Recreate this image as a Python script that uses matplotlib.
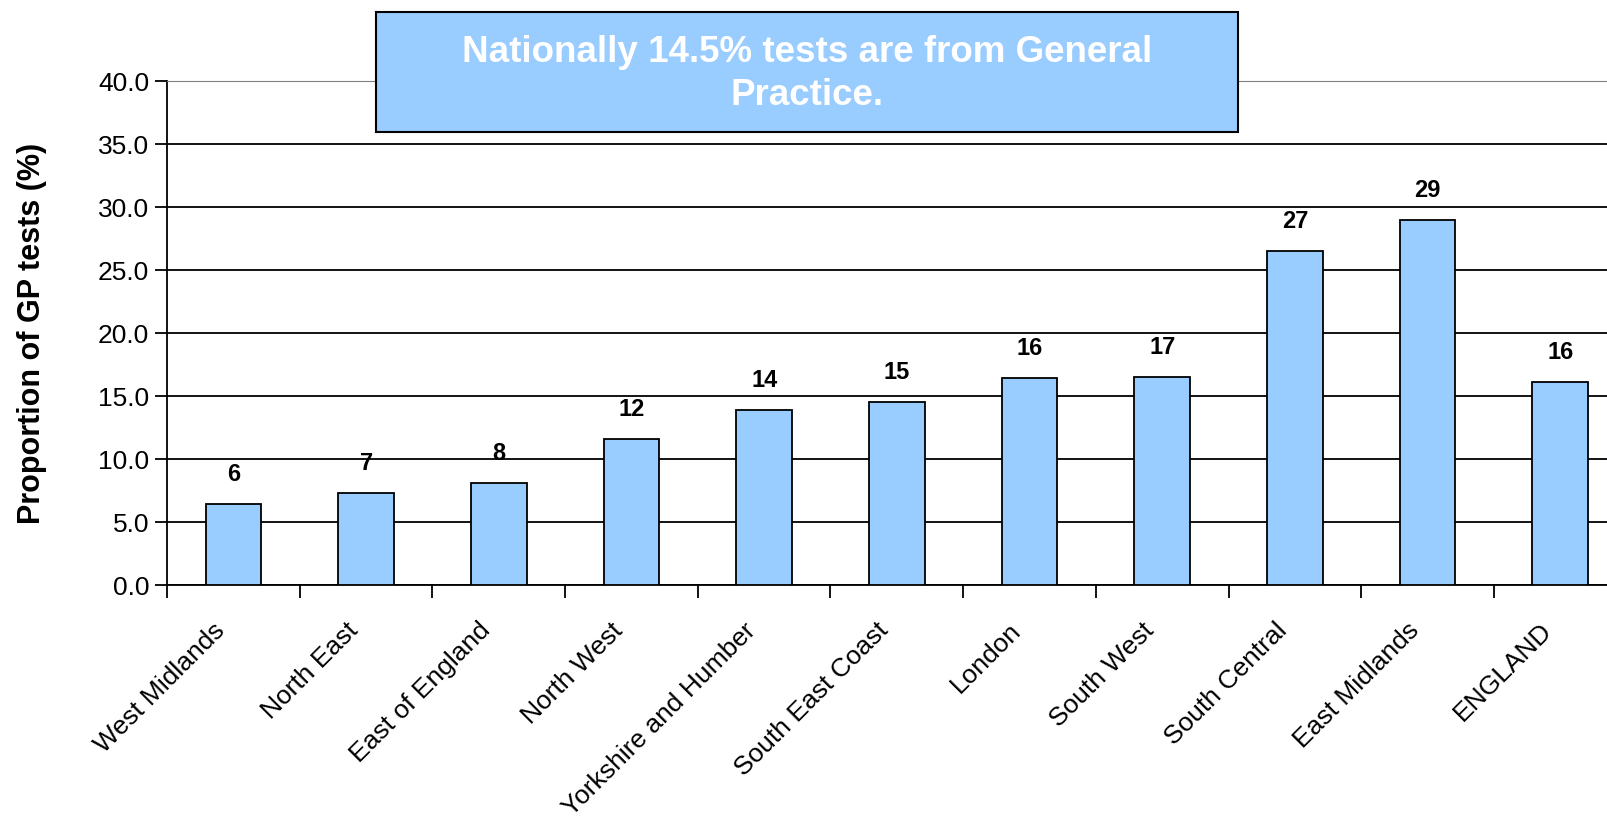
import matplotlib.pyplot as plt
from matplotlib.patches import Rectangle
from matplotlib.transforms import ScaledTranslation

plt.rcParams['font.family'] = ['Liberation Sans', 'DejaVu Sans']

# данные графика
regions = ['West Midlands', 'North East', 'East of England', 'North West',
           'Yorkshire and Humber', 'South East Coast', 'London', 'South West',
           'South Central', 'East Midlands', 'ENGLAND']
values = [6.4, 7.3, 8.1, 11.6, 13.9, 14.5, 16.4, 16.5, 26.5, 29.0, 16.1]
value_labels = ['6', '7', '8', '12', '14', '15', '16', '17', '27', '29', '16']
yticks = [0, 5, 10, 15, 20, 25, 30, 35, 40]
note = 'Nationally 14.5% tests are from General\nPractice.'

fig = plt.figure(figsize=(16.08, 8.36), dpi=100)
ax = fig.add_axes([0.1039, 0.3002, 0.8961, 0.6029])

x = list(range(len(regions)))
ax.bar(x, values, width=0.42, color='#99CCFF', edgecolor='black', linewidth=1.3, zorder=3)

for xi, v, lab in zip(x, values, value_labels):  # подписи над столбцами
    ax.annotate(lab, (xi, v), xytext=(0, 13), textcoords='offset points',
                ha='center', va='bottom', fontsize=17, fontweight='bold')

ax.set_ylim(0, 40)
ax.set_xlim(-0.5, 10.36)
ax.set_yticks(yticks)
ax.set_yticklabels([f'{t:.1f}' for t in yticks], fontsize=19)
ax.yaxis.grid(True, color='black', linewidth=1.3, zorder=0)
ax.set_axisbelow(True)

# деления оси X на границах категорий, как в Excel
ax.set_xticks([i - 0.5 for i in range(len(regions))])
ax.set_xticklabels([])
ax.set_xticks(x, minor=True)
ax.set_xticklabels(regions, minor=True, rotation=45, ha='right', va='center',
                   rotation_mode='anchor', fontsize=19)
ax.tick_params(axis='x', which='minor', length=0, pad=30)
ax.tick_params(axis='x', which='major', length=9, width=1.3, direction='out')
ax.tick_params(axis='y', length=9, width=1.3, direction='out', pad=4)
shift = ScaledTranslation(-12 / 100, 0, fig.dpi_scale_trans)
for lab in ax.get_xticklabels(minor=True):
    lab.set_transform(lab.get_transform() + shift)

ax.spines['right'].set_visible(False)
ax.spines['top'].set_color('#808080')
ax.spines['left'].set_linewidth(1.3)
ax.spines['bottom'].set_linewidth(1.3)

ax.set_ylabel('Proportion of GP tests (%)', fontsize=22, fontweight='bold')
ax.yaxis.set_label_coords(-0.0835, 0.5)

# плашка с комментарием
fig.patches.append(Rectangle((0.2338, 0.842), 0.536, 0.1435, transform=fig.transFigure,
                             facecolor='#99CCFF', edgecolor='black', linewidth=1.5, zorder=10))
fig.text(0.2338 + 0.268, 0.9115, note, ha='center', va='center', color='white',
         fontsize=26.5, fontweight='bold', linespacing=1.3, zorder=11)

fig.savefig('out.png', dpi=100)
